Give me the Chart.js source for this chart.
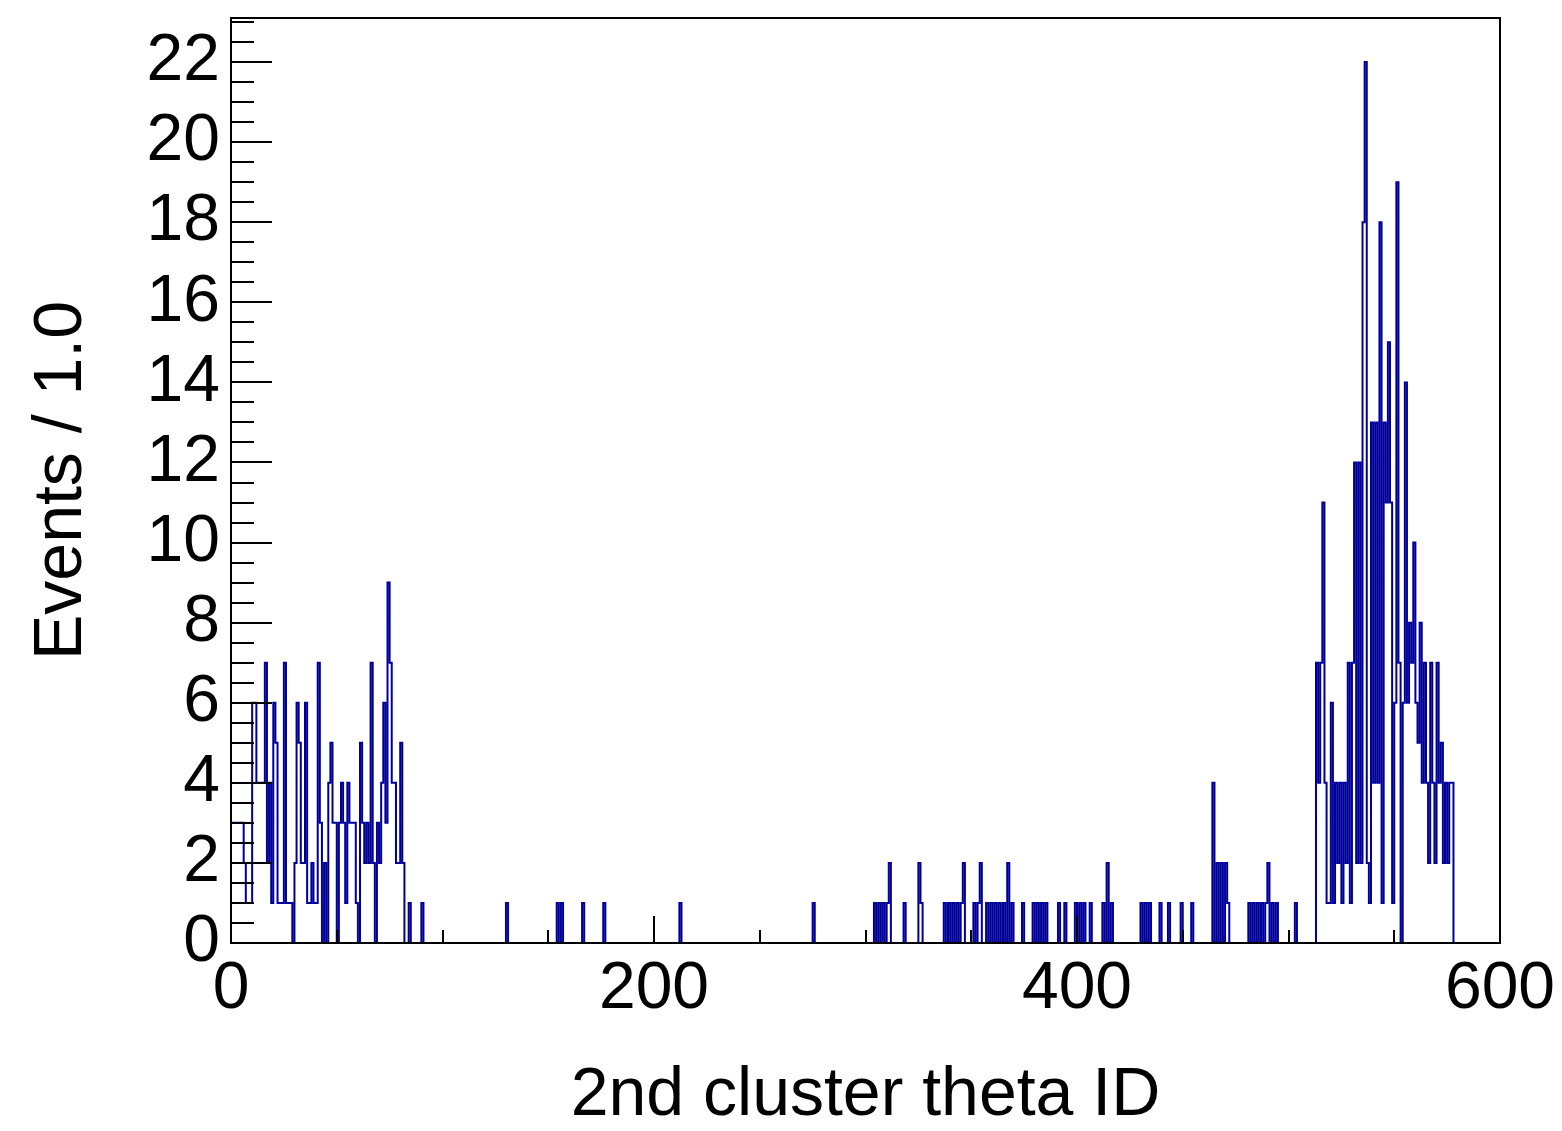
<!DOCTYPE html>
<html>
<head>
<meta charset="utf-8">
<script src="https://cdn.jsdelivr.net/npm/chart.js@4.4.1/dist/chart.umd.min.js"></script>
<style>
  html, body { margin: 0; padding: 0; background: #fff; }
  #wrap { width: 1562px; height: 1131px; }
</style>
</head>
<body>
<div id="wrap"><canvas id="thetaChart" width="1562" height="1131"></canvas></div>
<script>
// 2nd cluster theta ID, 600 bins of width 1
const nBins = 600;
const xTicks = [0, 200, 400, 600];
const yTicks = [0, 2, 4, 6, 8, 10, 12, 14, 16, 18, 20, 22];

// bins 0..85, forward region
const forwardEvents = [6, 3, 3, 3, 3, 3, 3, 2, 1, 1, 1, 6, 6, 4, 4, 4, 4, 7, 2, 4,
  1, 6, 5, 1, 1, 1, 7, 1, 1, 1, 0, 2, 6, 5, 2, 2, 6, 1, 1, 2,
  1, 1, 7, 3, 0, 2, 0, 4, 5, 3, 3, 0, 3, 4, 3, 1, 4, 3, 3, 3,
  1, 0, 5, 3, 2, 3, 2, 7, 2, 0, 3, 2, 4, 6, 3, 9, 7, 4, 4, 2,
  2, 5, 2, 0, 0, 1];

// scattered bins in the barrel
const barrelBins = [91, 131, 155, 157, 167, 177, 213, 276,
  305, 307, 309, 311, 312, 319, 326, 327,
  338, 340, 342, 344, 346, 347, 352, 354, 355,
  358, 360, 362, 364, 366, 368, 370, 375,
  380, 382, 384, 386, 392, 395, 400, 402, 404, 407,
  413, 415, 417, 431, 433, 435, 440, 444, 450, 455, 465,
  467, 469, 471, 472,
  482, 484, 486, 488, 490, 491, 493, 495];
const barrelEvents = [1, 1, 1, 1, 1, 1, 1, 1,
  1, 1, 1, 1, 2, 1, 2, 1,
  1, 1, 1, 1, 1, 2, 1, 1, 2,
  1, 1, 1, 1, 1, 2, 1, 1,
  1, 1, 1, 1, 1, 1, 1, 1, 1, 1,
  1, 2, 1, 1, 1, 1, 1, 1, 1, 1, 4,
  2, 2, 2, 1,
  1, 1, 1, 1, 1, 2, 1, 1];

// bins 504..578, backward peak
const backwardStart = 504;
const backwardEvents = [1, 0, 0, 0, 0, 0, 0, 0, 0, 0,
  7, 4, 7, 11, 4, 1, 1, 6, 1, 4,
  2, 4, 1, 4, 2, 7, 1, 7, 12, 2,
  12, 2, 18, 22, 2, 1, 13, 4, 13, 4,
  18, 1, 13, 11, 15, 11, 1, 6, 19, 7,
  0, 6, 14, 6, 8, 7, 10, 6, 5, 8,
  4, 7, 4, 2, 7, 4, 2, 7, 4, 5,
  2, 4, 2, 4, 4];

const counts = new Array(nBins).fill(0);
forwardEvents.forEach((v, i) => { counts[i] = v; });
barrelBins.forEach((b, i) => { counts[b] = barrelEvents[i]; });
backwardEvents.forEach((v, i) => { counts[backwardStart + i] = v; });

// histogram outline: bin low edges, stepped
const outline = [{x: 0, y: 0}];
counts.forEach((c, i) => outline.push({x: i, y: c}));
outline.push({x: nBins, y: counts[nBins - 1]});
outline.push({x: nBins, y: 0});

const FONT = '"Liberation Sans", Arial, Helvetica, sans-serif';

// frame and inward tick marks
const frameTicks = {
  id: 'frameTicks',
  afterDatasetsDraw(chart) {
    const {ctx, chartArea: a, scales: {x, y}} = chart;
    ctx.save();
    ctx.strokeStyle = '#000';
    ctx.lineWidth = 2;
    ctx.beginPath();
    for (let v = 0; v <= 23; v += 0.5) {
      const py = Math.round(y.getPixelForValue(v));
      const len = v % 2 === 0 ? 41 : 23;
      ctx.moveTo(a.left, py);
      ctx.lineTo(a.left + len, py);
    }
    for (let v = 0; v <= 600; v += 50) {
      const px = Math.round(x.getPixelForValue(v));
      const len = v % 200 === 0 ? 27 : 13;
      ctx.moveTo(px, a.bottom);
      ctx.lineTo(px, a.bottom - len);
    }
    ctx.stroke();
    ctx.strokeRect(a.left, a.top, a.right - a.left, a.bottom - a.top);
    ctx.restore();
  }
};

new Chart(document.getElementById('thetaChart'), {
  type: 'line',
  data: {
    datasets: [{
      data: outline,
      stepped: 'after',
      borderColor: '#000099',
      borderWidth: 2,
      pointRadius: 0,
      fill: false,
      tension: 0
    }]
  },
  options: {
    responsive: false,
    animation: false,
    devicePixelRatio: 1,
    layout: { padding: { top: 18, right: 62, left: 0, bottom: 0 } },
    plugins: { legend: { display: false }, tooltip: { enabled: false } },
    scales: {
      x: {
        type: 'linear',
        min: 0,
        max: nBins,
        grid: { display: false, drawTicks: false },
        border: { display: false },
        afterBuildTicks: s => { s.ticks = xTicks.map(v => ({value: v})); },
        afterFit: s => { s.height = 188; s.paddingLeft = 0; s.paddingRight = 0; },
        ticks: {
          color: '#000',
          padding: 7,
          maxRotation: 0,
          autoSkip: false,
          font: { family: FONT, size: 66 }
        },
        title: {
          display: true,
          text: '2nd cluster theta ID',
          color: '#000',
          font: { family: FONT, size: 68 },
          padding: { top: 0, bottom: -6 }
        }
      },
      y: {
        type: 'linear',
        min: 0,
        max: 23.1,
        grid: { display: false, drawTicks: false },
        border: { display: false },
        afterBuildTicks: s => { s.ticks = yTicks.map(v => ({value: v})); },
        afterFit: s => { s.width = 231; s.paddingTop = 0; s.paddingBottom = 0; },
        ticks: {
          color: '#000',
          padding: 11,
          autoSkip: false,
          font: { family: FONT, size: 66 }
        },
        title: {
          display: true,
          text: 'Events / 1.0',
          color: '#000',
          font: { family: FONT, size: 68 },
          padding: { top: 21, bottom: 0 }
        }
      }
    }
  },
  plugins: [frameTicks]
});
</script>
</body>
</html>
